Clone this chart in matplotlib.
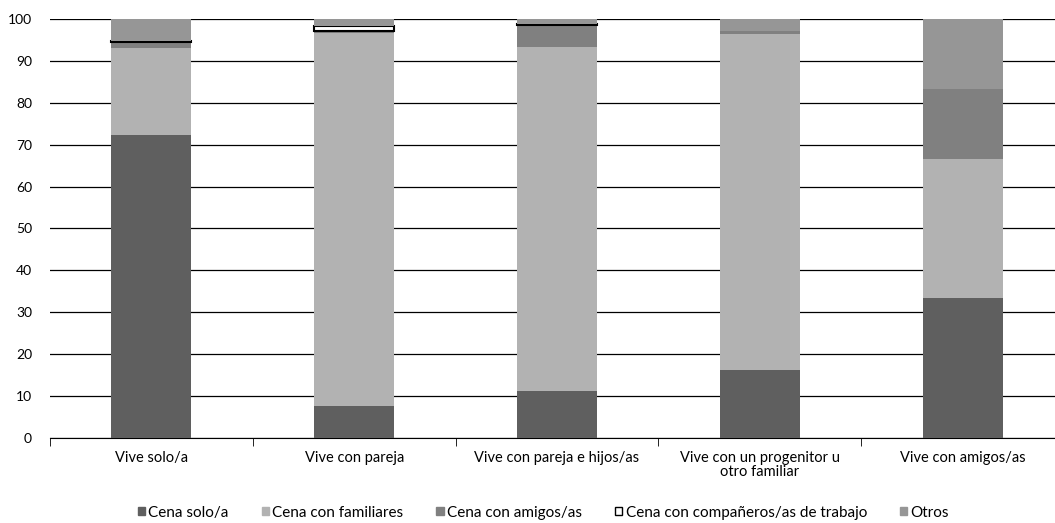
import numpy as np
import matplotlib.pyplot as plt
from matplotlib.patches import Patch

plt.rcParams['font.family'] = ['Lato', 'DejaVu Sans']

categories = ["Vive solo/a", "Vive con pareja", "Vive con pareja e hijos/as",
              "Vive con un progenitor u\notro familiar", "Vive con amigos/as"]
series_names = ["Cena solo/a", "Cena con familiares", "Cena con amigos/as",
                "Cena con compañeros/as de trabajo", "Otros"]
cena_solo = [72.4, 7.7, 11.3, 16.3, 33.3]
cena_familiares = [20.6, 89.0, 82.0, 80.2, 33.4]
cena_amigos = [1.5, 0.5, 5.3, 0.7, 16.6]
cena_companeros = [0.3, 1.1, 0.3, 0.0, 0.0]
otros = [5.2, 1.7, 1.1, 2.8, 16.7]

series = [cena_solo, cena_familiares, cena_amigos, cena_companeros, otros]
colors = ['#5f5f5f', '#b2b2b2', '#808080', '#ffffff', '#969696']
edges = ['none', 'none', 'none', 'black', 'none']

fig, ax = plt.subplots(figsize=(10.55, 5.23), dpi=100)
# the plot area runs a little past the right edge in the original
fig.subplots_adjust(left=0.0474, right=1.0085, top=0.9637, bottom=0.1625)

x = np.arange(len(categories))
bottom = np.zeros(len(categories))
for vals, c, e in zip(series, colors, edges):
    vals = np.array(vals)
    keep = vals > 0
    ax.bar(x[keep], vals[keep], width=0.395, bottom=bottom[keep], color=c,
           edgecolor=e, linewidth=1.5 if e != 'none' else 0, zorder=3)
    bottom += vals

ax.set_ylim(0, 100)
ax.set_xlim(-0.5, len(categories) - 0.5)
ax.set_yticks(np.arange(0, 101, 10))
ax.yaxis.grid(True, color='black', linewidth=0.9, zorder=0)
ax.set_axisbelow(True)
for s in ['left', 'right', 'top']:
    ax.spines[s].set_visible(False)
ax.spines['bottom'].set_color('black')
ax.tick_params(axis='y', length=0, labelsize=10, pad=13)
ax.set_xticks(x)
ax.set_xticklabels(categories, fontsize=10.5, linespacing=1.05)
ax.tick_params(axis='x', length=0, pad=9)
ax.set_xticks(np.arange(-0.5, len(categories)), minor=True)
ax.tick_params(axis='x', which='minor', length=6, color='black')

handles = [Patch(facecolor=c, edgecolor=('black' if e != 'none' else c))
           for c, e in zip(colors, edges)]
fig.legend(handles, series_names, loc='center', bbox_to_anchor=(0.515, 0.02),
           ncol=5, frameon=False, fontsize=11, handlelength=0.5, handleheight=0.5,
           handletextpad=0.2, columnspacing=2.15, borderpad=0)

fig.savefig('out.png', dpi=100)
